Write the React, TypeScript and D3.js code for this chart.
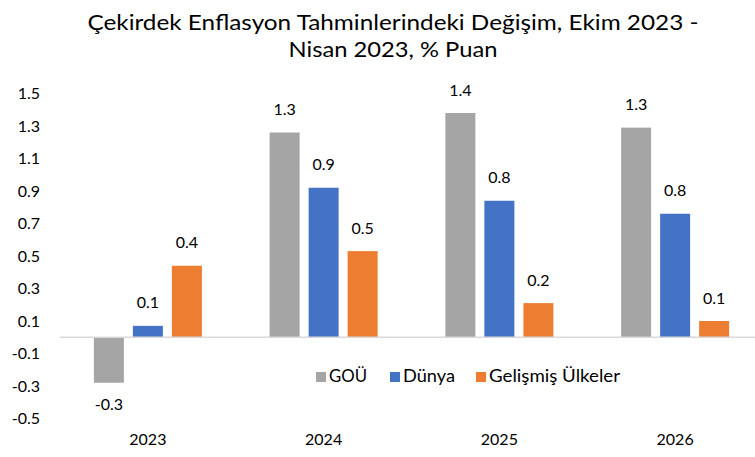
import React from "react";
import * as d3 from "d3";

const categories = ["2023", "2024", "2025", "2026"];
const seriesNames = ["GOÜ", "Dünya", "Gelişmiş Ülkeler"];
const gouValues = [-0.28, 1.26, 1.38, 1.29];
const dunyaValues = [0.07, 0.92, 0.84, 0.76];
const gelismisValues = [0.44, 0.53, 0.21, 0.1];
const yTicks = [-0.5, -0.3, -0.1, 0.1, 0.3, 0.5, 0.7, 0.9, 1.1, 1.3, 1.5];
const titleLines = ["Çekirdek Enflasyon Tahminlerindeki Değişim, Ekim 2023 -", "Nisan 2023, % Puan"];

const colors = ["#A5A5A5", "#4472C4", "#ED7D31"];
const W = 755;
const H = 457;
const FONT = "Lato, 'Open Sans', sans-serif";

export default function App() {
  const series = [gouValues, dunyaValues, gelismisValues];
  const x = d3.scaleBand<string>().domain(categories).range([60, 763]).padding(0);
  const y = d3.scaleLinear().domain([-0.5, 1.5]).range([418.5, 93.5]);
  const fmt = d3.formatLocale({ decimal: ".", thousands: ",", grouping: [3], currency: ["", ""], minus: "-" }).format(".1f");
  const barW = 30;
  const step = 39;

  const legendItems = [
    { sx: 316, tx: 329, w: 38 },
    { sx: 390, tx: 403, w: 52 },
    { sx: 476, tx: 489, w: 131 },
  ];

  return (
    <svg
      width={W}
      height={H}
      style={{ position: "absolute", left: 0, top: 0, display: "block", background: "#fff" }}
      fontFamily={FONT}
    >
      <rect x={0} y={0} width={W} height={H} fill="#fff" />
      <text x={393} y={30} textAnchor="middle" fontSize={21} fill="#000" textLength={611} lengthAdjust="spacingAndGlyphs">
        {titleLines[0]}
      </text>
      <text x={393} y={57} textAnchor="middle" fontSize={21} fill="#000" textLength={209} lengthAdjust="spacingAndGlyphs">
        {titleLines[1]}
      </text>

      {yTicks.map((t) => (
        <text key={t} x={40} y={y(t) + 1.5} textAnchor="end" dominantBaseline="middle" fontSize={16} fill="#000">
          {fmt(t)}
        </text>
      ))}

      {series.map((vals, si) =>
        vals.map((v, ci) => {
          const cx = (x(categories[ci]) as number) + x.bandwidth() / 2 + (si - 1) * step;
          const y0 = y(0);
          const yv = y(v);
          return (
            <g key={`${si}-${ci}`}>
              <rect x={cx - barW / 2} y={Math.min(y0, yv)} width={barW} height={Math.abs(yv - y0)} fill={colors[si]} />
              <text
                x={cx}
                y={v >= 0 ? yv - 21.5 : yv + 23}
                textAnchor="middle"
                dominantBaseline="middle"
                fontSize={16}
                fill="#000"
              >
                {fmt(v)}
              </text>
            </g>
          );
        })
      )}

      <line x1={60} x2={755} y1={y(0)} y2={y(0)} stroke="#D9D9D9" strokeWidth={1.5} />

      {categories.map((c) => (
        <text
          key={c}
          x={(x(c) as number) + x.bandwidth() / 2}
          y={441}
          textAnchor="middle"
          dominantBaseline="middle"
          fontSize={16}
          fill="#000"
        >
          {c}
        </text>
      ))}

      {seriesNames.map((n, i) => (
        <g key={n}>
          <rect x={legendItems[i].sx} y={372} width={10} height={10} fill={colors[i]} />
          <text
            x={legendItems[i].tx}
            y={377.5}
            dominantBaseline="middle"
            fontSize={17}
            fill="#000"
            textLength={legendItems[i].w}
            lengthAdjust="spacingAndGlyphs"
          >
            {n}
          </text>
        </g>
      ))}
    </svg>
  );
}
